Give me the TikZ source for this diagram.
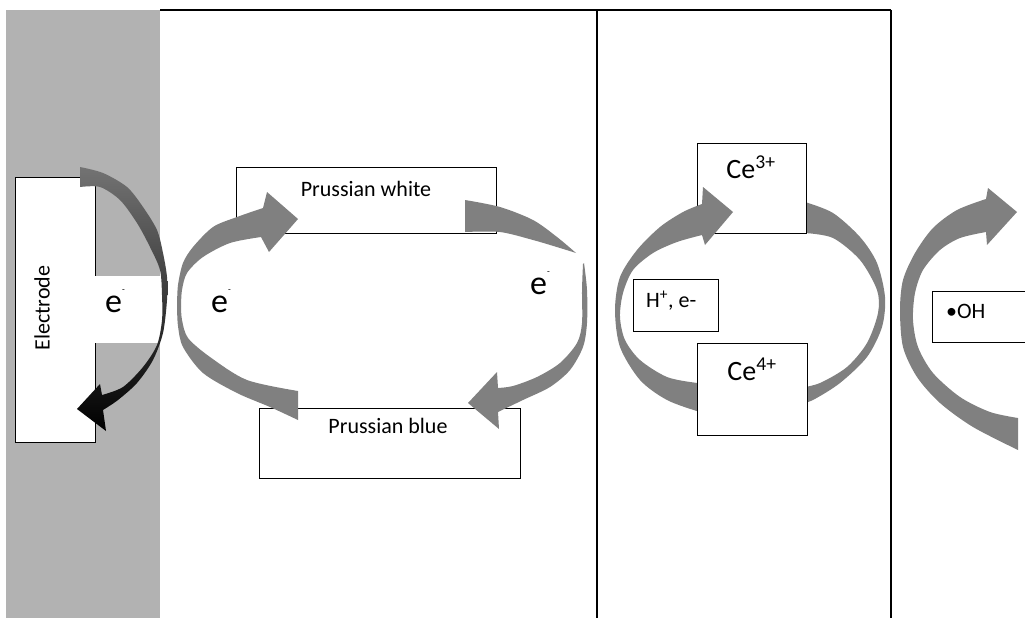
\documentclass[tikz,border=0pt]{standalone}
\usepackage{fontspec}
\setmainfont{Carlito}
\begin{document}
\begin{tikzpicture}[x=1pt,y=-1pt]
\tikzset{
  box/.style={draw=black, fill=white, line width=1.1pt, inner sep=0pt, anchor=north west},
  ring/.style={fill=black!50},
  panel/.style={fill=black!30},
  frameline/.style={line width=1.3pt},
  lbl/.style={inner sep=0pt, font=\fontsize{22}{24}\selectfont},
  celbl/.style={inner sep=0pt, font=\fontsize{28}{30}\selectfont},
  elbl/.style={inner sep=0pt, font=\fontsize{34}{36}\selectfont},
}
\useasboundingbox (0,0) rectangle (1025,618);
\clip (0,0) rectangle (1025,618);
\fill[white] (0,0) rectangle (1025,618);

% electrode panel and frame
\fill[panel] (6,10) rectangle (160,618);
\coordinate (ftl) at (160,10);
\coordinate (fm) at (597,10);
\coordinate (fr) at (891,10);
\draw[frameline] (ftl) -- (fr);
\draw[line width=2.4pt] (fm) -- (597,618);
\draw[frameline] (fr) -- (891,618);

% electrode
\node[box, minimum width=80pt, minimum height=265pt] (electrode) at (15,177) {};
\fill[white] (95,276) rectangle (160,343);
\node[lbl, rotate=90] (electxt) at (42,308) {Electrode};
\node[elbl, anchor=base west] (e1) at (105,312) {e\raisebox{20pt}{\fontsize{9}{9}\selectfont -}};

% black electron arrow
\shade[top color=black!55, middle color=black, bottom color=black]
  plot[smooth] coordinates {(80,167) (103,173) (127,187) (143,207) (157,230) (163,253) (167,277) (167,300) (163,333) (153,360) (137,383) (118,400) (103,410)}
  -- (106,431) -- (77,409) -- (100,384) -- (102,395)
  -- plot[smooth] coordinates {(102,395) (123,387) (143,367) (157,345) (162,320) (162,295) (160,270) (150,247) (137,223) (120,200) (100,187) (80,187)}
  -- cycle;

% Prussian boxes
\node[box, minimum width=260pt, minimum height=66pt] (pw) at (236,167) {};
\node[box, minimum width=261pt, minimum height=70pt] (pb) at (259,408) {};

% Prussian ring arrows
\fill[ring] plot[smooth] coordinates {(177,306) (178,285) (183,263) (193,247) (213,227) (237,217) (263,208)}
  -- (267,192) -- (298,219) -- (269,252) -- (261,237)
  -- plot[smooth] coordinates {(261,237) (230,243) (203,257) (187,273) (182,290) (181,306)} -- cycle;
\fill[ring] plot[smooth] coordinates {(177,306) (178,326) (183,347) (203,373) (237,393) (270,407) (298,420)}
  -- (298,391)
  -- plot[smooth] coordinates {(298,391) (247,380) (210,357) (188,338) (182,320) (181,306)} -- cycle;
\fill[ring] plot[smooth] coordinates {(465,200) (500,207) (533,220) (557,237) (576,253)}
  -- plot[smooth] coordinates {(576,253) (560,248) (533,240) (500,232) (465,232)} -- cycle;
\fill[ring] plot[smooth] coordinates {(584,263) (587,290) (587,323) (583,347) (570,370) (550,387) (523,400) (498,412)}
  -- (499,429) -- (468,403) -- (497,372) -- (498,388)
  -- plot[smooth] coordinates {(498,388) (513,386) (537,377) (560,363) (577,343) (582,323) (582,290) (583,264)} -- cycle;

\node[lbl, anchor=base] (pwtxt) at (366,196) {Prussian white};
\node[lbl, anchor=base] (pbtxt) at (388,433) {Prussian blue};
\node[elbl, anchor=base west] (e2) at (211,312) {e\raisebox{20pt}{\fontsize{9}{9}\selectfont -}};
\node[elbl, anchor=base west] (e3) at (530,294) {e\raisebox{20pt}{\fontsize{9}{9}\selectfont -}};

% cerium ring
\fill[ring] plot[smooth] coordinates {(800,404) (813,400) (840,383) (867,357) (882,327) (885,297) (877,263) (860,237) (833,213) (805,202)}
  -- plot[smooth] coordinates {(805,233) (833,238) (860,260) (877,290) (878,313) (867,343) (847,367) (820,383) (800,388)} -- cycle;
\node[box, minimum width=109pt, minimum height=90pt] (ce3) at (697,143) {};
\fill[ring] plot[smooth] coordinates {(712,414) (700,412) (667,400) (640,380) (620,347) (615,310) (620,277) (637,250) (660,227) (683,212) (702,204)}
  -- (703,187) -- (733,212) -- (705,245) -- (702,235)
  -- plot[smooth] coordinates {(702,235) (677,242) (653,253) (633,270) (623,293) (620,317) (625,340) (640,360) (667,377) (697,383) (712,384)} -- cycle;
\node[box, minimum width=110pt, minimum height=92pt] (ce4) at (697,343) {};
\node[box, minimum width=85pt, minimum height=52pt] (hbox) at (633,279) {};
\node[celbl, anchor=base] (ce3txt) at (751,178) {Ce\textsuperscript{3+}};
\node[celbl, anchor=base] (ce4txt) at (752,380) {Ce\textsuperscript{4+}};
\node[lbl, anchor=base west] (htxt) at (646,307) {H\textsuperscript{+}, e-};

% hydroxyl arrow
\fill[ring] plot[smooth] coordinates {(1018,450) (973,427) (940,403) (917,377) (903,347) (900,310) (903,280) (915,253) (933,228) (957,210) (986,199)}
  -- (988,188) -- (1017,212) -- (987,245) -- (986,232)
  -- plot[smooth] coordinates {(986,232) (960,238) (940,250) (923,270) (915,293) (913,320) (918,347) (933,373) (960,397) (990,412) (1018,418)} -- cycle;
\node[box, minimum width=110pt, minimum height=51pt] (oh) at (932,291) {};
\node[lbl, anchor=base west] (ohtxt) at (946,318) {•OH};
\end{tikzpicture}
\end{document}
